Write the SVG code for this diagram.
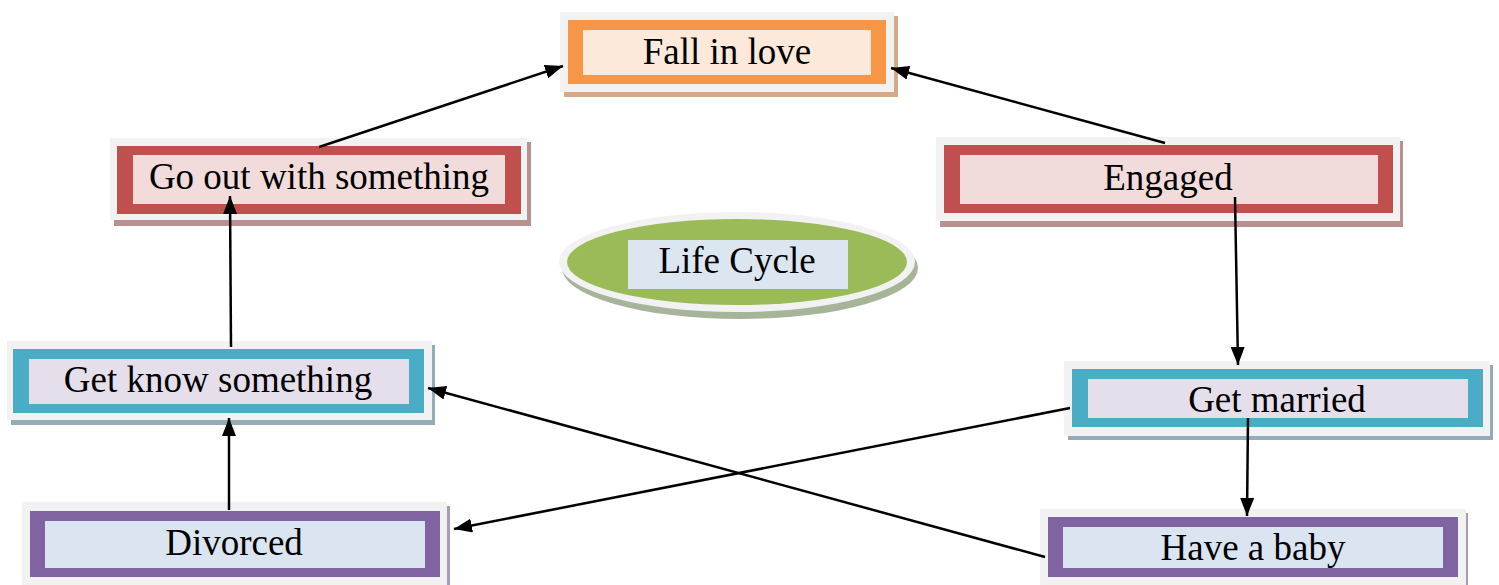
<svg xmlns="http://www.w3.org/2000/svg" width="1499" height="585" viewBox="0 0 1499 585">
<style>
.frame{fill:#f2f2f2}
.lbl{font-family:"Liberation Serif","Times New Roman",serif;font-size:37px;fill:#000;text-anchor:middle}
.conn{stroke:#000;stroke-width:2.5;fill:none;marker-end:url(#ah)}
</style>
<defs>
<marker id="ah" markerUnits="userSpaceOnUse" markerWidth="18" markerHeight="14" viewBox="0 0 18 14" refX="18" refY="7" orient="auto">
<path d="M0,0 L18,7 L0,14 Z" fill="#000"/>
</marker>
</defs>
<rect width="1499" height="585" fill="#fff"/>
<g id="fall-in-love">
<rect x="564" y="16" width="334" height="81" fill="#d6aa86"/>
<rect class="frame" x="560" y="12" width="334" height="80"/>
<rect x="568" y="20" width="318" height="64" fill="#f79646"/>
<rect x="583" y="30" width="288" height="45" fill="#fde9d9"/>
<text class="lbl" x="727" y="64">Fall in love</text>
</g>
<g id="go-out">
<rect x="114" y="142" width="417" height="84" fill="#b99192"/>
<rect class="frame" x="110" y="138" width="417" height="82"/>
<rect x="117" y="146" width="404" height="68" fill="#c0504d"/>
<rect x="133" y="155" width="372" height="49" fill="#f2dcdb"/>
<text class="lbl" x="319" y="189">Go out with something</text>
</g>
<g id="engaged">
<rect x="940" y="141" width="463" height="86" fill="#b99192"/>
<rect class="frame" x="936" y="137" width="464" height="84"/>
<rect x="944" y="145" width="449" height="68" fill="#c0504d"/>
<rect x="960" y="155" width="418" height="49" fill="#f2dcdb"/>
<text class="lbl" x="1168" y="190">Engaged</text>
</g>
<g id="life-cycle">
<ellipse cx="740" cy="268" rx="178" ry="51" fill="#a6b59a"/>
<ellipse cx="737" cy="262" rx="178" ry="50" fill="#f2f2f2"/>
<ellipse cx="737" cy="262" rx="170" ry="43" fill="#9bbb59"/>
<rect x="628" y="240" width="220" height="49" fill="#dce6f1"/>
<text class="lbl" x="737" y="273">Life Cycle</text>
</g>
<g id="get-know">
<rect x="11" y="345" width="424" height="80" fill="#93adb6"/>
<rect class="frame" x="7" y="341" width="425" height="79"/>
<rect x="13" y="349" width="411" height="64" fill="#4bacc6"/>
<rect x="29" y="359" width="380" height="45" fill="#e5dfec"/>
<text class="lbl" x="218" y="392">Get know something</text>
</g>
<g id="get-married">
<rect x="1068" y="365" width="425" height="75" fill="#93adb6"/>
<rect class="frame" x="1064" y="361" width="426" height="75"/>
<rect x="1072" y="369" width="411" height="58" fill="#4bacc6"/>
<rect x="1088" y="379" width="380" height="39" fill="#e5dfec"/>
<text class="lbl" x="1277" y="412">Get married</text>
</g>
<g id="divorced">
<rect x="26" y="506" width="424" height="85" fill="#a89bb5"/>
<rect class="frame" x="22" y="502" width="425" height="90"/>
<rect x="30" y="511" width="410" height="66" fill="#8064a2"/>
<rect x="45" y="521" width="380" height="47" fill="#dbe5f1"/>
<text class="lbl" x="234" y="555">Divorced</text>
</g>
<g id="have-a-baby">
<rect x="1044" y="513" width="424" height="80" fill="#a89bb5"/>
<rect class="frame" x="1040" y="509" width="426" height="80"/>
<rect x="1048" y="517" width="410" height="60" fill="#8064a2"/>
<rect x="1063" y="527" width="380" height="41" fill="#dbe5f1"/>
<text class="lbl" x="1253" y="560">Have a baby</text>
</g>
<g id="connectors">
<line class="conn" x1="319" y1="147" x2="563" y2="66"/>
<line class="conn" x1="1165" y1="143" x2="891" y2="68"/>
<line class="conn" x1="1235" y1="197" x2="1238" y2="365"/>
<line class="conn" x1="1070" y1="408" x2="454" y2="529"/>
<line class="conn" x1="1248" y1="418" x2="1247" y2="516"/>
<line class="conn" x1="1045" y1="557" x2="428" y2="388"/>
<line class="conn" x1="229" y1="510" x2="229" y2="418"/>
<line class="conn" x1="231" y1="347" x2="230" y2="196"/>
</g>
</svg>
